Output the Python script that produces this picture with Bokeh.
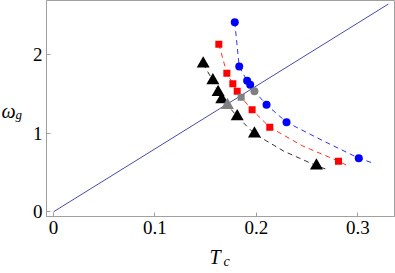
from bokeh.plotting import figure
from bokeh.models import FixedTicker, Label, Range1d
from bokeh.embed import file_html
from bokeh.resources import INLINE

# Data
blue_T = [0.1786, 0.1830, 0.1908, 0.1938, 0.2099, 0.2296, 0.3008]
blue_w = [2.409, 1.846, 1.664, 1.614, 1.360, 1.139, 0.681]
red_T = [0.1629, 0.1708, 0.1767, 0.1810, 0.1957, 0.2131, 0.2808]
red_w = [2.130, 1.761, 1.626, 1.532, 1.296, 1.075, 0.643]
black_T = [0.1475, 0.1570, 0.1622, 0.1658, 0.1810, 0.1980, 0.2591]
black_w = [1.880, 1.668, 1.520, 1.427, 1.211, 0.991, 0.585]

gray_circle_T, gray_circle_w = [0.1980], [1.532]
gray_square_T, gray_square_w = [0.1849], [1.456]
gray_tri_T, gray_tri_w = [0.1714], [1.355]

blue_curve_T = [0.1786, 0.1830, 0.1908, 0.1938, 0.1980, 0.2099, 0.2296, 0.2650, 0.3008, 0.3150]
blue_curve_w = [2.409, 1.846, 1.664, 1.614, 1.532, 1.360, 1.139, 0.906, 0.681, 0.618]
red_curve_T = [0.1629, 0.1708, 0.1767, 0.1810, 0.1849, 0.1957, 0.2131, 0.2450, 0.2808, 0.2893]
red_curve_w = [2.130, 1.761, 1.626, 1.532, 1.456, 1.296, 1.075, 0.840, 0.643, 0.588]
black_curve_T = [0.1475, 0.1570, 0.1622, 0.1658, 0.1714, 0.1810, 0.1980, 0.2270, 0.2591, 0.2697]
black_curve_w = [1.880, 1.668, 1.520, 1.427, 1.355, 1.211, 0.991, 0.770, 0.585, 0.537]

line_T = [0.0, 0.330]
line_w = [0.0, 2.640]

x_ticks = [0, 0.1, 0.2, 0.3]
x_labels = ["0", "0.1", "0.2", "0.3"]
y_ticks = [0, 1, 2]
y_labels = ["0", "1", "2"]

FONT = "Liberation Serif"
FRAME = "#a0a0a0"

p = figure(width=395, height=273, output_backend="svg", toolbar_location=None,
           x_range=Range1d(-0.0069, 0.336), y_range=Range1d(-0.0597, 2.685),
           min_border_left=46, min_border_right=1, min_border_top=0, min_border_bottom=56)
p.background_fill_color = "white"
p.border_fill_color = "white"
p.outline_line_color = FRAME
p.grid.visible = False

for ax in (p.xaxis[0], p.yaxis[0]):
    ax.axis_line_color = FRAME
    ax.major_tick_line_color = FRAME
    ax.major_tick_in = 4
    ax.major_tick_out = 0
    ax.minor_tick_line_color = None
    ax.major_label_text_font = FONT
    ax.major_label_text_font_size = "19px"
    ax.major_label_text_color = "black"

p.xaxis[0].ticker = FixedTicker(ticks=x_ticks)
p.xaxis[0].major_label_overrides = {t: s for t, s in zip(x_ticks, x_labels)}
p.xaxis[0].major_label_standoff = 4
p.yaxis[0].ticker = FixedTicker(ticks=y_ticks)
p.yaxis[0].major_label_overrides = {t: s for t, s in zip(y_ticks, y_labels)}
p.yaxis[0].major_label_standoff = 4

p.line(line_T, line_w, line_color="#4a4aa8", line_width=1)

p.line(black_curve_T, black_curve_w, line_color="#333333", line_width=1, line_dash="5 4")
p.line(red_curve_T, red_curve_w, line_color="#ff3030", line_width=1, line_dash="5 4")
p.line(blue_curve_T, blue_curve_w, line_color="#3030ff", line_width=1, line_dash="5 4")

p.scatter(black_T, black_w, marker="triangle", size=13, fill_color="black", line_color=None)
p.scatter(red_T, red_w, marker="square", size=7, fill_color="red", line_color=None)
p.scatter(blue_T, blue_w, marker="circle", size=8, fill_color="blue", line_color=None)
p.scatter(gray_tri_T, gray_tri_w, marker="triangle", size=13, fill_color="gray", line_color=None)
p.scatter(gray_square_T, gray_square_w, marker="square", size=7, fill_color="gray", line_color=None)
p.scatter(gray_circle_T, gray_circle_w, marker="circle", size=8, fill_color="gray", line_color=None)

# axis titles with subscripts, placed in canvas units (origin top-left) in the side panels
lab = dict(x_units="canvas", y_units="canvas", text_font=FONT, text_font_style="italic",
           text_baseline="alphabetic", text_color="black")
p.add_layout(Label(x=1, y=110, text="ω", text_font_size="20px", **lab), "left")
p.add_layout(Label(x=15, y=114, text="g", text_font_size="13px", **lab), "left")
p.add_layout(Label(x=209, y=256, text="T", text_font_size="20px", **lab), "below")
p.add_layout(Label(x=223, y=261, text="c", text_font_size="14px", **lab), "below")

open("out.html", "w").write(file_html(p, INLINE))
